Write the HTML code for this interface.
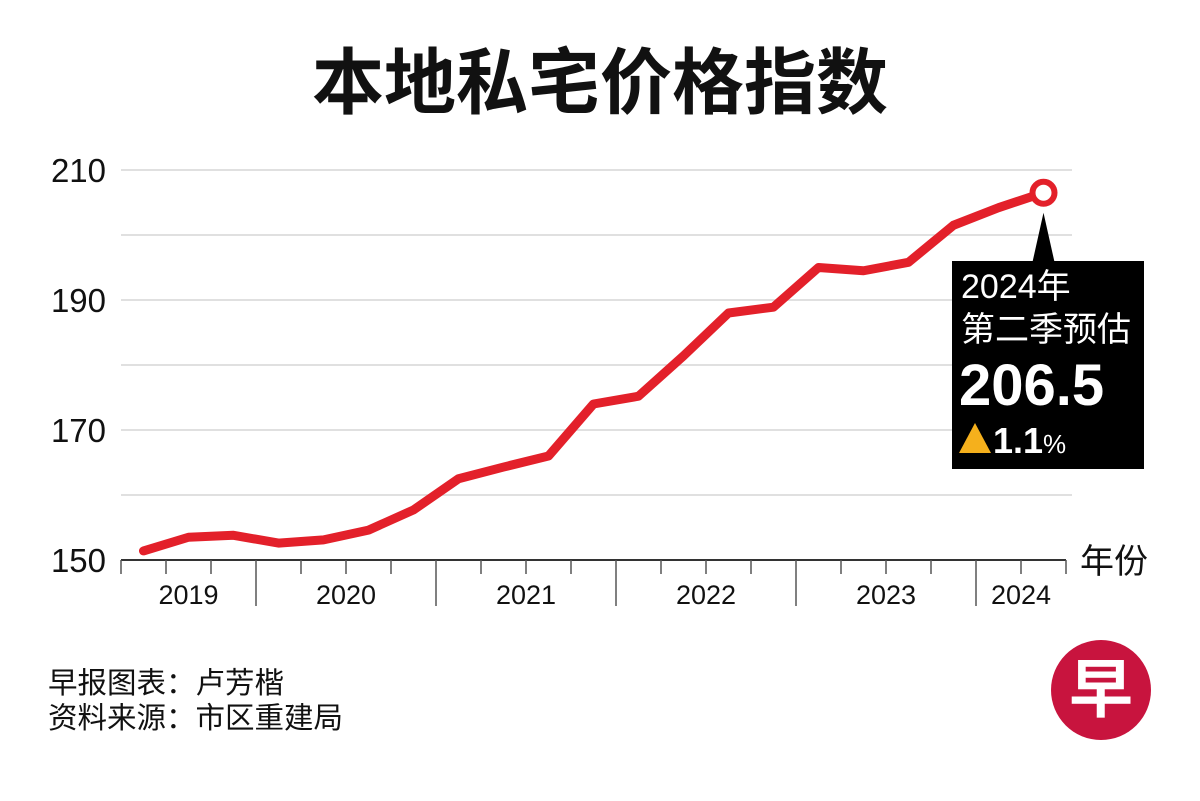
<!DOCTYPE html>
<html><head><meta charset="utf-8">
<style>
body{margin:0;background:#fff;}
svg text{font-family:"Liberation Sans","Noto Sans CJK SC",sans-serif;}
</style></head>
<body>
<svg width="1200" height="796" viewBox="0 0 1200 796" xmlns="http://www.w3.org/2000/svg">
<text x="600" y="108" text-anchor="middle" font-size="72" font-weight="bold" fill="#111">本地私宅价格指数</text>
<g id="grid"></g>
<g id="yticks"></g>
<g id="xaxis"></g>
<text x="1080" y="573" font-size="34" fill="#111">年份</text>
<path id="line" fill="none" stroke="#e3202a" stroke-width="9" stroke-linejoin="round" stroke-linecap="round"/>
<circle id="endpt" r="11" fill="#fff" stroke="#e3202a" stroke-width="6"/>
<g>
<polygon id="pointer" fill="#000"/>
<rect x="952" y="261" width="192" height="208" fill="#000"/>
<text x="961" y="298" font-size="34" fill="#fff">2024年</text>
<text x="961" y="341" font-size="34" fill="#fff">第二季预估</text>
<text x="959" y="405" font-size="58" font-weight="bold" fill="#fff">206.5</text>
<polygon points="959,453 975,423 991,453" fill="#f5b01c"/>
<text x="993" y="453" font-size="36" font-weight="bold" fill="#fff">1.1<tspan font-size="26" font-weight="normal">%</tspan></text>
</g>
<text x="48" y="693" font-size="29.5" fill="#111">早报图表：卢芳楷</text>
<text x="48" y="728" font-size="29.5" fill="#111">资料来源：市区重建局</text>
<g>
<circle cx="1101" cy="690" r="50" fill="#c8143e"/>
<text x="1101" y="712" text-anchor="middle" font-size="64" font-weight="bold" fill="#fff">早</text>
</g>
</svg>
<script>
const yTicks=[150,170,190,210];
const gridVals=[160,170,180,190,200,210];
const years=["2019","2020","2021","2022","2023","2024"];
const quarters=["2019Q2","2019Q3","2019Q4","2020Q1","2020Q2","2020Q3","2020Q4","2021Q1","2021Q2","2021Q3","2021Q4","2022Q1","2022Q2","2022Q3","2022Q4","2023Q1","2023Q2","2023Q3","2023Q4","2024Q1","2024Q2"];
const values=[151.4,153.5,153.8,152.6,153.1,154.6,157.7,162.5,164.3,166.0,174.0,175.2,181.4,188.0,188.9,195.0,194.5,195.8,201.5,204.2,206.5];
const NS="http://www.w3.org/2000/svg";
function y(v){return 560-(v-150)*6.5;}
function xq(q){return 76+q*45;}
function qIndex(s){return (parseInt(s)-2019)*4+parseInt(s.slice(5))-1;}
function mk(t,a,p){const e=document.createElementNS(NS,t);for(const k in a)e.setAttribute(k,a[k]);p.appendChild(e);return e;}
const grid=document.getElementById('grid');
gridVals.forEach(v=>{const l=mk('line',{x1:121,x2:1072,y1:y(v),y2:y(v),stroke:'#d6d6d6','stroke-width':1.5},grid);

});
const yt=document.getElementById('yticks');
yTicks.forEach(v=>{const t=mk('text',{x:106,y:y(v)+12,'text-anchor':'end','font-size':33,fill:'#111'},yt);t.textContent=v;

});
const xa=document.getElementById('xaxis');
const x0=xq(1),x1=xq(22);
const al=mk('line',{x1:x0,x2:x1,y1:560,y2:560,stroke:'#333','stroke-width':2},xa);


for(let q=1;q<=22;q++){const major=q%4===0;
const tk=mk('line',{x1:xq(q),x2:xq(q),y1:560,y2:major?606:574,stroke:'#555','stroke-width':1.5},xa);

}
years.forEach((yr,i)=>{const s=Math.max(xq(i*4),x0),e=Math.min(xq(i*4+4),x1);
const t=mk('text',{x:(s+e)/2,y:604,'text-anchor':'middle','font-size':27,fill:'#111'},xa);t.textContent=yr;

});
const pts=quarters.map((q,i)=>[xq(qIndex(q))+22.5,y(values[i])]);
document.getElementById('line').setAttribute('d','M'+pts.map(p=>p.join(',')).join('L'));
const last=pts[pts.length-1];
const c=document.getElementById('endpt');c.setAttribute('cx',last[0]);c.setAttribute('cy',last[1]);
document.getElementById('pointer').setAttribute('points',`${last[0]},${last[1]+20} ${last[0]-11},262 ${last[0]+11},262`);
</script>
</body></html>
